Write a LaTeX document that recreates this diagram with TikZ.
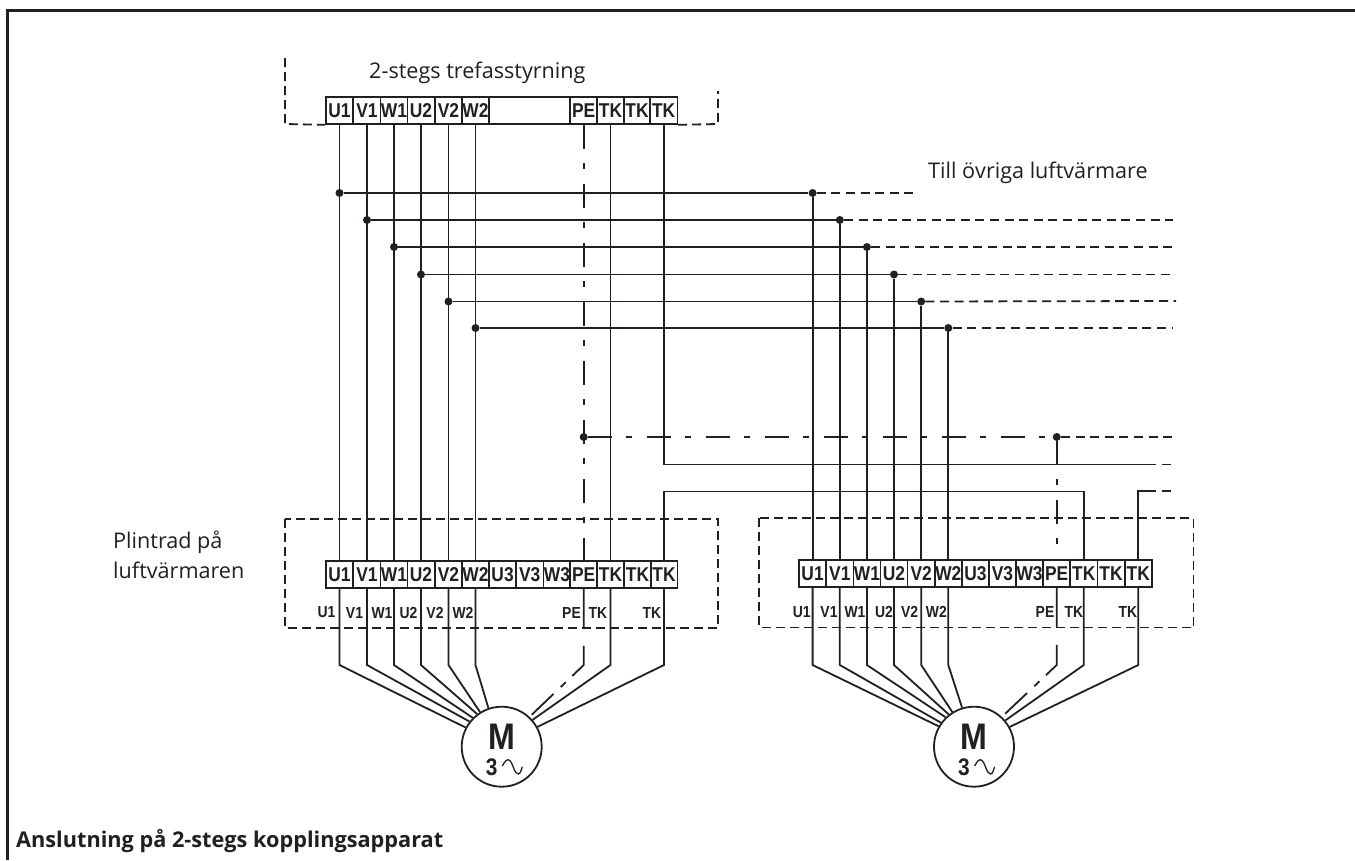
\documentclass[tikz,border=0pt]{standalone}
\usepackage{fontspec}
\setmainfont{Open Sans}
\newfontfamily\termfont[FakeStretch=0.87]{Liberation Sans}
\definecolor{ink}{HTML}{231F20}
\tikzset{
    wire/.style={draw=ink, line width=1.8pt},
    dashwire/.style={draw=ink, line width=1.8pt, dash pattern=on 9pt off 5.6pt},
    boxline/.style={draw=ink, line width=1.8pt, dash pattern=on 9pt off 5pt},
    pewire/.style={draw=ink, line width=1.8pt, dash pattern=on 24pt off 14pt on 6pt off 15pt},
    pefan/.style={draw=ink, line width=1.8pt, dash pattern=on 39pt off 18pt on 35pt off 9pt on 7pt off 10pt on 30pt},
    cell/.style={draw=ink, line width=1.6pt, minimum width=27.2pt, minimum height=27pt, inner sep=0pt, text=ink, font=\termfont\bfseries\fontsize{20}{21}\selectfont},
    pinlabel/.style={inner sep=0pt, text=ink, font=\termfont\bfseries\fontsize{16}{17}\selectfont},
    busdot/.style={circle, fill=ink, inner sep=0pt, minimum size=8pt},
    motor/.style={circle, draw=ink, line width=1.8pt, minimum size=80pt, inner sep=0pt},
    caption/.style={inner sep=0pt, text=ink, font=\fontsize{21.6}{30}\selectfont, align=left}
}
\begin{document}
\begin{tikzpicture}[x=1pt, y=-1pt]
    \useasboundingbox (0,0) rectangle (1355,860);
    \draw[draw=ink, line width=3pt] (1355,10.5) -- (7,10.5) -- (7,860);

    \node[caption, anchor=base west] (title) at (369,78) {2-stegs trefasstyrning};
    \node[caption, anchor=base west] (others) at (928,178) {Till övriga luftvärmare};
    \node[caption, anchor=base west] (plint) at (113,578) {Plintrad på\\luftvärmaren};
    \node[caption, anchor=base west, font=\bfseries\fontsize{21.7}{26}\selectfont] (bottom) at (16,847) {Anslutning på 2-stegs kopplingsapparat};

    \node[cell] (tU1) at (339.5,110.5) {U1};
    \node[cell] (tV1) at (367,110.5) {V1};
    \node[cell] (tW1) at (394,110.5) {W1};
    \node[cell] (tU2) at (421,110.5) {U2};
    \node[cell] (tV2) at (448.5,110.5) {V2};
    \node[cell] (tW2) at (475.5,110.5) {W2};
    \node[cell, minimum width=81pt] (tGap) at (529.5,110.5) {};
    \node[cell] (tPE) at (583.7,110.5) {PE};
    \node[cell] (tTK1) at (610.5,110.5) {TK};
    \node[cell] (tTK2) at (637,110.5) {TK};
    \node[cell] (tTK3) at (663.7,110.5) {TK};

    \node[cell] (lU1) at (339.5,574.5) {U1};
    \node[cell] (lV1) at (367,574.5) {V1};
    \node[cell] (lW1) at (394,574.5) {W1};
    \node[cell] (lU2) at (421,574.5) {U2};
    \node[cell] (lV2) at (448.5,574.5) {V2};
    \node[cell] (lW2) at (475.5,574.5) {W2};
    \node[cell] (lU3) at (502.6,574.5) {U3};
    \node[cell] (lV3) at (529.7,574.5) {V3};
    \node[cell] (lW3) at (557,574.5) {W3};
    \node[cell] (lPE) at (583.7,574.5) {PE};
    \node[cell] (lTK1) at (610.5,574.5) {TK};
    \node[cell] (lTK2) at (637.5,574.5) {TK};
    \node[cell] (lTK3) at (664,574.5) {TK};

    \node[cell] (rU1) at (812.6,573.5) {U1};
    \node[cell] (rV1) at (839.8,573.5) {V1};
    \node[cell] (rW1) at (866.9,573.5) {W1};
    \node[cell] (rU2) at (894,573.5) {U2};
    \node[cell] (rV2) at (921.2,573.5) {V2};
    \node[cell] (rW2) at (948.3,573.5) {W2};
    \node[cell] (rU3) at (975.4,573.5) {U3};
    \node[cell] (rV3) at (1002.5,573.5) {V3};
    \node[cell] (rW3) at (1029.6,573.5) {W3};
    \node[cell] (rPE) at (1056.7,573.5) {PE};
    \node[cell] (rTK1) at (1083.8,573.5) {TK};
    \node[cell] (rTK2) at (1111,573.5) {TK};
    \node[cell] (rTK3) at (1138.3,573.5) {TK};

    \node[pinlabel] (nlU1) at (326.5,612.5) {U1};
    \node[pinlabel] (nlV1) at (354.5,612.5) {V1};
    \node[pinlabel] (nlW1) at (382,612.5) {W1};
    \node[pinlabel] (nlU2) at (408.5,612.5) {U2};
    \node[pinlabel] (nlV2) at (435,612.5) {V2};
    \node[pinlabel] (nlW2) at (463,612.5) {W2};
    \node[pinlabel] (nlPE) at (571.5,612.5) {PE};
    \node[pinlabel] (nlTK1) at (598,612.5) {TK};
    \node[pinlabel] (nlTK3) at (652,612.5) {TK};

    \node[pinlabel] (nrU1) at (801.7,612) {U1};
    \node[pinlabel] (nrV1) at (829,612) {V1};
    \node[pinlabel] (nrW1) at (855,612) {W1};
    \node[pinlabel] (nrU2) at (884,612) {U2};
    \node[pinlabel] (nrV2) at (909.7,612) {V2};
    \node[pinlabel] (nrW2) at (936.3,612) {W2};
    \node[pinlabel] (nrPE) at (1045,612) {PE};
    \node[pinlabel] (nrTK1) at (1073.8,612) {TK};
    \node[pinlabel] (nrTK3) at (1128,612) {TK};

    \node[motor] (ml) at (501.7,746.7) {};
    \node[motor] (mr) at (974,746.7) {};
    \node[pinlabel, font=\termfont\bfseries\fontsize{37}{38}\selectfont] (mlM) at (501.7,736.5) {M};
    \node[pinlabel, font=\termfont\bfseries\fontsize{24}{25}\selectfont] (ml3) at (491.7,767) {3};
    \node[pinlabel, font=\termfont\bfseries\fontsize{37}{38}\selectfont] (mrM) at (974,736.5) {M};
    \node[pinlabel, font=\termfont\bfseries\fontsize{24}{25}\selectfont] (mr3) at (964,767) {3};
    \draw[wire, line width=1.3pt] (502.3,766) .. controls (505,761) and (507,759) .. (509,760) .. controls (513,762) and (514,774) .. (518.3,774) .. controls (520,774) and (521.5,770) .. (522.3,766.7);
    \draw[wire, line width=1.3pt, xshift=472.3pt] (502.3,766) .. controls (505,761) and (507,759) .. (509,760) .. controls (513,762) and (514,774) .. (518.3,774) .. controls (520,774) and (521.5,770) .. (522.3,766.7);

    \coordinate (knee) at (0,665);
    \coordinate (e1) at (917,193);
    \coordinate (e2) at (1173,220);
    \coordinate (e3) at (1173,247);
    \coordinate (e4) at (1173,274.5);
    \coordinate (e5) at (1176,301);
    \coordinate (e6) at (1173,328);
    \coordinate (e7) at (1173,437);
    \coordinate (tkA) at (1147,464.5);
    \coordinate (tkB) at (1173,464.5);
    \coordinate (tkC) at (1147,491);
    \coordinate (tkD) at (1173,491);
    \coordinate (jump) at (800,491.5);

    \draw[boxline] (285,58) -- (285,124) -- (tU1.south west);
    \draw[boxline] (tTK3.south east) -- (718,124) -- (718,91);
    \draw[boxline] (285,519) rectangle (718,628);
    \draw[boxline] (759,518) rectangle (1193.5,627.5);

    \node[busdot] (a1) at (339.5,193) {};
    \node[busdot] (a2) at (367,220) {};
    \node[busdot] (a3) at (394,247) {};
    \node[busdot] (a4) at (421,274.5) {};
    \node[busdot] (a5) at (448.5,301.5) {};
    \node[busdot] (a6) at (475.5,328) {};
    \node[busdot] (b1) at (812.6,193) {};
    \node[busdot] (b2) at (839.8,220) {};
    \node[busdot] (b3) at (866.9,247) {};
    \node[busdot] (b4) at (894,274.5) {};
    \node[busdot] (b5) at (921.2,301.5) {};
    \node[busdot] (b6) at (948.3,328) {};
    \node[busdot] (pa) at (583.7,437) {};
    \node[busdot] (pb) at (1056.7,437) {};

    \draw[wire] (tU1.south) -- (lU1.north);
    \draw[wire] (tV1.south) -- (lV1.north);
    \draw[wire] (tW1.south) -- (lW1.north);
    \draw[wire] (tU2.south) -- (lU2.north);
    \draw[wire] (tV2.south) -- (lV2.north);
    \draw[wire] (tW2.south) -- (lW2.north);
    \draw[wire] (tTK1.south) -- (lTK1.north);
    \draw[pewire] (tPE.south) -- (lPE.north);

    \draw[wire] (a1) -- (b1);
    \draw[wire] (a2) -- (b2);
    \draw[wire] (a3) -- (b3);
    \draw[wire] (a4) -- (b4);
    \draw[wire] (a5) -- (b5);
    \draw[wire] (a6) -- (b6);
    \draw[dashwire] (b1) -- (e1);
    \draw[dashwire] (b2) -- (e2);
    \draw[dashwire] (b3) -- (e3);
    \draw[dashwire] (b4) -- (e4);
    \draw[dashwire] (b5) -- (e5);
    \draw[dashwire] (b6) -- (e6);
    \draw[wire] (b1) -- (rU1.north);
    \draw[wire] (b2) -- (rV1.north);
    \draw[wire] (b3) -- (rW1.north);
    \draw[wire] (b4) -- (rU2.north);
    \draw[wire] (b5) -- (rV2.north);
    \draw[wire] (b6) -- (rW2.north);

    \draw[pewire] (pa) -- (pb);
    \draw[dashwire] (pb) -- (e7);
    \draw[pewire] (pb) -- (rPE.north);
    \draw[wire] (tTK3.south) |- (tkA);
    \draw[dashwire] (tkA) -- (tkB);
    \draw[wire] (lTK3.north) |- (jump) -| (rTK1.north);
    \draw[wire] (rTK3.north) |- (tkC);
    \draw[dashwire] (tkC) -- (tkD);

    \draw[wire] (lU1.south) -- (lU1.south |- knee) -- (ml.152);
    \draw[wire] (lV1.south) -- (lV1.south |- knee) -- (ml.142);
    \draw[wire] (lW1.south) -- (lW1.south |- knee) -- (ml.135);
    \draw[wire] (lU2.south) -- (lU2.south |- knee) -- (ml.127);
    \draw[wire] (lV2.south) -- (lV2.south |- knee) -- (ml.122);
    \draw[wire] (lW2.south) -- (lW2.south |- knee) -- (ml.109);
    \draw[pefan] (lPE.south) -- (lPE.south |- knee) -- (ml.47);
    \draw[wire] (lTK1.south) -- (lTK1.south |- knee) -- (ml.41);
    \draw[wire] (lTK3.south) -- (lTK3.south |- knee) -- (ml.29);

    \draw[wire] (rU1.south) -- (rU1.south |- knee) -- (mr.150);
    \draw[wire] (rV1.south) -- (rV1.south |- knee) -- (mr.144);
    \draw[wire] (rW1.south) -- (rW1.south |- knee) -- (mr.134);
    \draw[wire] (rU2.south) -- (rU2.south |- knee) -- (mr.128);
    \draw[wire] (rV2.south) -- (rV2.south |- knee) -- (mr.122);
    \draw[wire] (rW2.south) -- (rW2.south |- knee) -- (mr.107);
    \draw[pefan] (rPE.south) -- (rPE.south |- knee) -- (mr.47);
    \draw[wire] (rTK1.south) -- (rTK1.south |- knee) -- (mr.40);
    \draw[wire] (rTK3.south) -- (rTK3.south |- knee) -- (mr.29);
\end{tikzpicture}
\end{document}
